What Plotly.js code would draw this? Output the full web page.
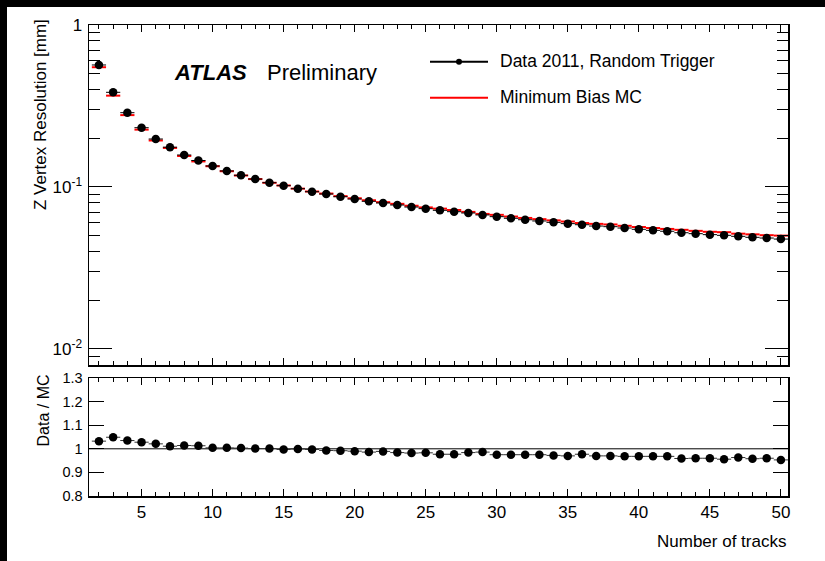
<!DOCTYPE html>
<html><head><meta charset="utf-8">
<script src="https://cdn.plot.ly/plotly-3.0.1.min.js"></script>
<style>
html,body{margin:0;padding:0;background:#000;width:825px;height:561px;overflow:hidden}
#chart{position:absolute;left:7px;top:7px;width:818px;height:554px;background:#fff}
</style>
</head><body><div id="chart"></div>
<script>
const nTracks = [2,3,4,5,6,7,8,9,10,11,12,13,14,15,16,17,18,19,20,21,22,23,24,25,26,27,28,29,30,31,32,33,34,35,36,37,38,39,40,41,42,43,44,45,46,47,48,49,50];
const resolutionData = [0.5665,0.3842,0.2875,0.2323,0.1978,0.1761,0.1576,0.1457,0.1348,0.1256,0.1181,0.1120,0.1063,0.1019,0.0976,0.0935,0.0905,0.0871,0.0843,0.0816,0.0797,0.0774,0.0752,0.0735,0.0718,0.0704,0.0691,0.0672,0.0656,0.0641,0.0628,0.0617,0.0605,0.0594,0.0585,0.0574,0.0569,0.0558,0.0548,0.0540,0.0533,0.0522,0.0515,0.0508,0.0503,0.0496,0.0489,0.0484,0.0477];
const resolutionMC = [0.5487,0.3663,0.2778,0.2260,0.1937,0.1742,0.1554,0.1438,0.1343,0.1251,0.1177,0.1119,0.1062,0.1022,0.0977,0.0938,0.0911,0.0878,0.0852,0.0828,0.0806,0.0787,0.0766,0.0748,0.0735,0.0721,0.0702,0.0682,0.0673,0.0657,0.0644,0.0633,0.0622,0.0612,0.0599,0.0592,0.0587,0.0576,0.0566,0.0558,0.0551,0.0544,0.0536,0.0529,0.0526,0.0515,0.0510,0.0504,0.0501];
const ratioDataMC = [1.0325,1.049,1.035,1.028,1.021,1.011,1.014,1.013,1.004,1.004,1.003,1.001,1.001,0.997,0.999,0.997,0.993,0.992,0.990,0.986,0.989,0.984,0.982,0.983,0.977,0.977,0.984,0.986,0.975,0.975,0.975,0.975,0.972,0.970,0.977,0.970,0.970,0.968,0.968,0.968,0.968,0.959,0.960,0.960,0.956,0.963,0.958,0.960,0.953];
const seriesNames = ['Data 2011, Random Trigger','Minimum Bias MC'];
const xTickVals = [5,10,15,20,25,30,35,40,45,50];
const yMainTickVals = [0.01,0.1,1];
const yMainTickText = ['10<sup>-2</sup>','10<sup>-1</sup>','1'];
const yMinorTickVals = [0.009,0.02,0.03,0.04,0.05,0.06,0.07,0.08,0.09,0.2,0.3,0.4,0.5,0.6,0.7,0.8,0.9];
const yRatioTickVals = [0.8,0.9,1,1.1,1.2,1.3];
const yRatioTickText = ['0.8','0.9','1','1.1','1.2','1.3'];

const FONT = 'Liberation Sans, Arial, Helvetica, sans-serif';

const traces = [
  {x:nTracks, y:resolutionMC, type:'scatter', mode:'markers', name:seriesNames[1],
   marker:{size:1, color:'#ff0000'}, showlegend:false, hoverinfo:'skip',
   error_x:{type:'constant', value:0.5, color:'#ff0000', thickness:2, width:0},
   xaxis:'x', yaxis:'y'},
  {x:nTracks, y:resolutionData, type:'scatter', mode:'markers', name:seriesNames[0],
   marker:{size:8.5, color:'#000'}, showlegend:false,
   error_x:{type:'constant', value:0.5, color:'#000', thickness:1, width:0},
   xaxis:'x', yaxis:'y'},
  {x:nTracks, y:ratioDataMC, type:'scatter', mode:'markers', name:'Data / MC',
   marker:{size:8.5, color:'#000'}, showlegend:false,
   error_x:{type:'constant', value:0.5, color:'#333', thickness:1, width:0},
   xaxis:'x2', yaxis:'y2'}
];

const axisCommon = {showgrid:false, zeroline:false, showline:true, linecolor:'#000', linewidth:1.5,
  mirror:'ticks', ticks:'inside', tickcolor:'#000', tickwidth:1, ticklabelstandoff:2};

const px = v => (v - 82) / 699;
const py = v => (489 - v) / 471;

const layout = {
  width:818, height:554,
  margin:{l:82, r:37, t:18, b:65},
  paper_bgcolor:'#fff', plot_bgcolor:'#fff',
  font:{family:FONT, color:'#000', size:17},
  showlegend:false,
  xaxis:Object.assign({}, axisCommon, {domain:[0,1], anchor:'y', range:[1.3,50.5],
    tickvals:xTickVals, ticklen:7, showticklabels:false,
    minor:{dtick:1, tick0:0, ticklen:4, ticks:'inside', tickcolor:'#000', tickwidth:1}}),
  yaxis:Object.assign({}, axisCommon, {domain:[0.2781,1], anchor:'x', type:'log', range:[-2.099,0],
    tickvals:yMainTickVals, ticktext:yMainTickText, ticklen:23, tickfont:{size:17},
    minor:{tickvals:yMinorTickVals, ticklen:11, ticks:'inside', tickcolor:'#000', tickwidth:1}}),
  xaxis2:Object.assign({}, axisCommon, {domain:[0,1], anchor:'y2', range:[1.3,50.5], matches:'x',
    tickvals:xTickVals, ticklen:7, tickfont:{size:17}, ticklabelstandoff:0,
    minor:{dtick:1, tick0:0, ticklen:4, ticks:'inside', tickcolor:'#000', tickwidth:1}}),
  yaxis2:Object.assign({}, axisCommon, {domain:[0,0.2505], anchor:'x2', range:[0.8,1.3],
    tickvals:yRatioTickVals, ticktext:yRatioTickText, ticklen:15, tickfont:{size:14.5}}),
  shapes:[
    {type:'line', xref:'paper', yref:'y2', x0:0, x1:1, y0:1, y1:1, line:{color:'#000', width:1}, layer:'below'},
    {type:'line', xref:'paper', yref:'paper', x0:px(423), x1:px(481), y0:py(54.7), y1:py(54.7), line:{color:'#000', width:2}},
    {type:'circle', xref:'paper', yref:'paper', xsizemode:'pixel', ysizemode:'pixel',
     xanchor:px(452), yanchor:py(54.7), x0:-3, x1:3, y0:-3, y1:3, fillcolor:'#000', line:{color:'#000', width:0}},
    {type:'line', xref:'paper', yref:'paper', x0:px(423), x1:px(481), y0:py(90.7), y1:py(90.7), line:{color:'#ff0000', width:2}}
  ],
  annotations:[
    {text:'<b><i>ATLAS</i></b>', xref:'paper', yref:'paper', x:px(165), y:py(65), xanchor:'left', yanchor:'middle', showarrow:false, font:{size:22}},
    {text:'Preliminary', xref:'paper', yref:'paper', x:px(258), y:py(65), xanchor:'left', yanchor:'middle', showarrow:false, font:{size:22}},
    {text:seriesNames[0], xref:'paper', yref:'paper', x:px(491), y:py(54), xanchor:'left', yanchor:'middle', showarrow:false, font:{size:17.5}},
    {text:seriesNames[1], xref:'paper', yref:'paper', x:px(491), y:py(90), xanchor:'left', yanchor:'middle', showarrow:false, font:{size:17.5}},
    {text:'Z Vertex Resolution [mm]', xref:'paper', yref:'paper', x:px(34), y:py(108), xanchor:'center', yanchor:'middle', textangle:-90, showarrow:false, font:{size:17}},
    {text:'Data / MC', xref:'paper', yref:'paper', x:px(35.5), y:py(404), xanchor:'center', yanchor:'middle', textangle:-90, showarrow:false, font:{size:16}},
    {text:'Number of tracks', xref:'paper', yref:'paper', x:1, y:py(534.7), xanchor:'right', yanchor:'middle', showarrow:false, font:{size:17}}
  ]
};

Plotly.newPlot('chart', traces, layout, {staticPlot:true, displayModeBar:false});
</script>
</body></html>
